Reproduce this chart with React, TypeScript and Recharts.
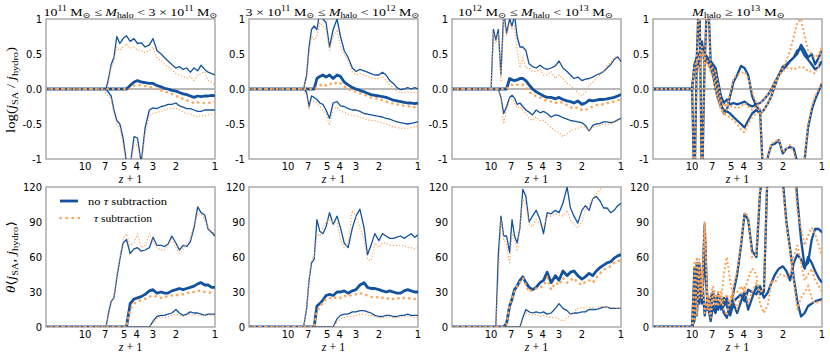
import React from 'react'
import { LineChart, Line, XAxis, YAxis, ReferenceArea } from 'recharts'

// shared redshift grid (z+1), left to right on the reversed log axis
const zp1 = [
  20, 10, 9.6, 9.2, 8.8, 8.4, 8.0, 7.6, 7.2,
  6.9, 6.6, 6.3, 6.0, 5.7, 5.4, 5.1, 4.8, 4.5, 4.2,
  3.95, 3.7, 3.45, 3.2, 3.0, 2.8, 2.6, 2.45, 2.3, 2.15,
  2.0, 1.88, 1.76, 1.65, 1.55, 1.45, 1.36, 1.28, 1.2, 1.13, 1.06, 1.0
]

const xTicks = [10, 7, 5, 4, 3, 2, 1]
const logTicks = [-1, -0.5, 0, 0.5, 1]
const thetaTicks = [0, 30, 60, 90, 120]

// ---- top row: log(j_SA / j_hydro) ----
// 1e11 - 3e11
const p1Hi = [0, 0, 0, 0, 0, 0, 0, 0, 0,
  0, 0.15, 0.35, 0.45, 0.75, 0.65, 0.72, 0.76, 0.68, 0.72,
  0.65, 0.66, 0.6, 0.63, 0.72, 0.55, 0.5, 0.45, 0.4, 0.35,
  0.3, 0.32, 0.28, 0.3, 0.24, 0.3, 0.26, 0.34, 0.28, 0.24, 0.22, 0.2]
const p1HiTau = [0, 0, 0, 0, 0, 0, 0, 0, 0,
  -0.05, 0.1, 0.3, 0.4, 0.6, 0.55, 0.6, 0.65, 0.58, 0.6,
  0.55, 0.55, 0.52, 0.55, 0.6, 0.45, 0.4, 0.35, 0.32, 0.28,
  0.22, 0.2, 0.18, 0.15, 0.18, 0.12, 0.2, 0.22, 0.25, 0.12, 0.1, 0.05]
const p1Med = [0, 0, 0, 0, 0, 0, 0, 0, 0,
  0, 0, 0, 0, 0, 0, 0, 0, 0.05, 0.1,
  0.12, 0.1, 0.09, 0.08, 0.08, 0.05, 0.03, 0.01, 0, -0.02,
  -0.03, -0.05, -0.07, -0.08, -0.1, -0.12, -0.1, -0.11, -0.1, -0.1, -0.09, -0.1]
const p1MedTau = [0, 0, 0, 0, 0, 0, 0, 0, 0,
  0, 0, 0, 0, 0, 0, 0, 0, 0, 0.05,
  0.06, 0.05, 0.04, 0.03, 0.02, 0, -0.02, -0.04, -0.05, -0.07,
  -0.1, -0.12, -0.14, -0.16, -0.18, -0.2, -0.19, -0.2, -0.2, -0.2, -0.19, -0.18]
const p1Lo = [0, 0, 0, 0, 0, 0, 0, 0, 0,
  0, -0.05, -0.1, -0.3, -0.45, -0.5, -0.7, -1.05, -1.1, -0.68,
  -0.7, -1.05, -0.55, -0.3, -0.27, -0.28, -0.25, -0.24, -0.22, -0.22,
  -0.2, -0.24, -0.26, -0.28, -0.28, -0.3, -0.32, -0.32, -0.3, -0.3, -0.3, -0.3]
const p1LoTau = [0, 0, 0, 0, 0, 0, 0, 0, 0,
  -0.08, -0.1, -0.15, -0.35, -0.5, -0.55, -0.8, -1.1, -1.1, -0.8,
  -0.8, -1.1, -0.65, -0.38, -0.35, -0.33, -0.32, -0.3, -0.28, -0.28,
  -0.27, -0.3, -0.33, -0.35, -0.36, -0.38, -0.4, -0.38, -0.38, -0.37, -0.36, -0.35]

// 3e11 - 1e12
const p2Hi = [0, 0, 0, 0, 0, 0, 0, 0, 0.2,
  0.6, 0.85, 0.9, 0.85, 1.1, 1.0, 0.95, 0.6, 0.85, 1.0,
  0.75, 0.55, 0.45, 0.3, 0.25, 0.28, 0.26, 0.24, 0.22, 0.2,
  0.2, 0.24, 0.2, 0.12, 0.08, 0.02, -0.01, 0, 0.02, 0, 0.02, 0]
const p2HiTau = [0, 0, 0, 0, 0, 0, 0, 0, 0.15,
  0.5, 0.75, 0.7, 0.75, 0.95, 0.9, 0.85, 0.55, 0.75, 0.85,
  0.6, 0.5, 0.4, 0.25, 0.2, 0.22, 0.2, 0.18, 0.16, 0.15,
  0.15, 0.18, 0.12, 0.06, 0.02, -0.03, -0.05, -0.05, -0.04, -0.05, -0.05, -0.05]
const p2Med = [0, 0, 0, 0, 0, 0, 0, 0, 0,
  0, 0, 0, 0.15, 0.18, 0.2, 0.17, 0.2, 0.15, 0.2,
  0.18, 0.1, 0.06, 0.02, 0, -0.02, -0.04, -0.06, -0.08, -0.09,
  -0.1, -0.11, -0.12, -0.14, -0.16, -0.17, -0.18, -0.19, -0.2, -0.2, -0.21, -0.2]
const p2MedTau = [0, 0, 0, 0, 0, 0, 0, 0, 0,
  0, 0, 0, 0.02, 0.05, 0.07, 0.05, 0.08, 0.06, 0.1,
  0.08, 0.04, 0, -0.02, -0.04, -0.06, -0.08, -0.1, -0.12, -0.13,
  -0.14, -0.16, -0.18, -0.2, -0.21, -0.22, -0.23, -0.24, -0.25, -0.25, -0.26, -0.26]
const p2Lo = [0, 0, 0, 0, 0, 0, 0, 0, -0.05,
  -0.25, -0.1, -0.12, -0.15, -0.2, -0.22, -0.3, -0.42, -0.2, -0.18,
  -0.24, -0.25, -0.28, -0.3, -0.3, -0.32, -0.35, -0.36, -0.37, -0.38,
  -0.39, -0.4, -0.42, -0.43, -0.45, -0.47, -0.48, -0.49, -0.5, -0.49, -0.48, -0.47]
const p2LoTau = [0, 0, 0, 0, 0, 0, 0, 0, -0.1,
  -0.3, -0.15, -0.18, -0.2, -0.25, -0.3, -0.35, -0.52, -0.28, -0.26,
  -0.32, -0.33, -0.36, -0.38, -0.38, -0.4, -0.42, -0.44, -0.45, -0.45,
  -0.47, -0.48, -0.5, -0.52, -0.54, -0.55, -0.56, -0.56, -0.56, -0.55, -0.54, -0.53]

// 1e12 - 1e13
const p3Hi = [0, 0, 0.85, 0.7, 0.85, 0.2, 1.1, 0.8, 1.0,
  0.9, 1.05, 0.75, 0.6, 0.6, 0.55, 0.36, 0.32, 0.3, 0.34,
  0.3, 0.28, 0.3, 0.33, 0.4, 0.3, 0.25, 0.2, 0.15, 0.17,
  0.12, 0.14, 0.15, 0.17, 0.2, 0.22, 0.25, 0.3, 0.35, 0.42, 0.46, 0.39]
const p3HiTau = [0, 0, 0.8, 0.65, 0.8, 0.1, 1.0, 0.75, 0.95,
  0.85, 0.9, 0.55, 0.3, 0.45, 0.3, 0.3, 0.25, 0.25, 0.28,
  0.2, 0.2, 0.25, 0.15, 0.2, 0.15, 0.08, 0.05, 0, -0.05,
  -0.1, -0.05, 0.05, 0.1, 0.15, 0.2, 0.25, 0.33, 0.38, 0.45, 0.47, 0.42]
const p3Med = [0, 0, 0, 0, 0, 0, 0, 0, 0.15,
  0.13, 0.12, 0.13, 0.15, 0.15, 0.12, 0.06, 0, -0.04, -0.07,
  -0.1, -0.12, -0.12, -0.14, -0.12, -0.15, -0.17, -0.18, -0.2, -0.17,
  -0.22, -0.2, -0.16, -0.17, -0.16, -0.15, -0.15, -0.14, -0.13, -0.12, -0.1, -0.08]
const p3MedTau = [0, 0, 0, 0, 0, 0, 0, 0, 0.05,
  0.06, 0.05, 0.06, 0.07, 0.06, 0.02, -0.04, -0.08, -0.1, -0.12,
  -0.15, -0.17, -0.18, -0.2, -0.18, -0.2, -0.23, -0.26, -0.28, -0.26,
  -0.3, -0.3, -0.27, -0.25, -0.23, -0.22, -0.22, -0.2, -0.19, -0.18, -0.16, -0.15]
const p3Lo = [0, 0, 0, 0, 0, -0.12, -0.35, -0.25, -0.12,
  -0.09, -0.13, -0.22, -0.2, -0.25, -0.3, -0.33, -0.37, -0.3, -0.34,
  -0.32, -0.35, -0.4, -0.37, -0.38, -0.41, -0.43, -0.45, -0.46, -0.47,
  -0.48, -0.52, -0.6, -0.52, -0.5, -0.49, -0.47, -0.47, -0.48, -0.47, -0.44, -0.42]
const p3LoTau = [0, 0, 0, 0, 0, -0.15, -0.5, -0.3, -0.17,
  -0.14, -0.2, -0.27, -0.25, -0.3, -0.35, -0.42, -0.45, -0.4, -0.45,
  -0.45, -0.5, -0.55, -0.6, -0.62, -0.68, -0.64, -0.6, -0.58, -0.56,
  -0.54, -0.55, -0.6, -0.55, -0.53, -0.52, -0.5, -0.5, -0.5, -0.48, -0.46, -0.44]

// >= 1e13 (few haloes, noisy)
const p4A = [0, 0, -1.5, 0.45, 0.5, 0.6, 0.5, 0.45, 0.35,
  0.3, 0.15, -0.05, -0.2, -0.35, -0.3, -0.1, 0.1, 0.2, 0.33,
  0.3, 0.2, -0.1, -0.25, -0.3, -1.5, -0.95, -0.8, -0.78, -0.73,
  -0.92, -0.85, -0.83, -0.85, -1.05, -1.4, -1.0, -0.55, -0.3, -0.15, -0.03, 0.08]
const p4ATau = [0, 0, -1.5, 0.4, 0.45, 0.55, 0.45, 0.4, 0.3,
  0.25, 0.1, -0.1, -0.25, -0.35, -0.3, -0.05, 0.15, 0.2, 0.22,
  0.25, 0.15, -0.05, -0.2, -0.3, -1.5, -0.95, -0.78, -0.75, -0.72,
  -0.9, -0.85, -0.8, -0.9, -1.1, -1.4, -0.95, -0.5, -0.25, -0.1, 0, 0.1]
const p4B = [0, 0, 0.3, 0.45, 1.5, -1.5, 0.45, 0.4, 0.3,
  0.2, 0, -0.15, -0.25, -0.3, -0.32, -0.35, -0.4, -0.45, -0.5,
  -0.55, -0.45, -0.35, -0.3, -0.35, -0.3, -0.2, -0.1, 0.05, 0.2,
  0.32, 0.35, 0.4, 0.45, 0.5, 0.63, 0.55, 0.45, 0.5, 0.35, 0.45, 0.55]
const p4BTau = [0, 0, 0.3, 0.4, 1.5, -1.5, 0.4, 0.35, 0.25,
  0.15, 0, -0.15, -0.3, -0.35, -0.38, -0.4, -0.45, -0.5, -0.58,
  -0.62, -0.5, -0.4, -0.35, -0.35, -0.3, -0.2, -0.1, 0.05, 0.18,
  0.3, 0.4, 0.55, 0.75, 0.95, 1.0, 0.75, 0.55, 0.5, 0.45, 0.5, 0.6]
const p4C = [0, 0, 0.35, 0.45, 0.3, 0.68, 0.35, 1.5, 0.4,
  0.35, 0.3, 0.1, -0.1, -0.2, -0.15, -0.22, -0.2, -0.22, -0.2,
  -0.18, -0.22, -0.25, -0.22, -0.2, -0.15, -0.08, 0, 0.1, 0.2,
  0.28, 0.33, 0.4, 0.45, 0.55, 0.58, 0.48, 0.42, 0.35, 0.28, 0.32, 0.4]
const p4CTau = [0, 0, 0.3, 0.4, 0.25, 0.6, 0.3, 1.5, 0.35,
  0.3, 0.25, 0.05, -0.15, -0.25, -0.2, -0.25, -0.25, -0.28, -0.25,
  -0.2, -0.25, -0.3, -0.25, -0.2, -0.15, -0.08, 0, 0.1, 0.18,
  0.25, 0.3, 0.3, 0.28, 0.3, 0.32, 0.3, 0.25, 0.25, 0.22, 0.35, 0.62]

// ---- bottom row: misalignment angle (deg) ----
const p5Hi = [0, 0, 0, 0, 0, 0, 0, 0, 0,
  0, 12, 22, 25, 42, 58, 72, 75, 63, 67,
  68, 65, 66, 68, 77, 70, 70, 69, 71, 78,
  72, 66, 70, 69, 73, 85, 103, 98, 96, 84, 81, 78]
const p5HiTau = [0, 0, 0, 0, 0, 0, 0, 0, 0,
  0, 10, 20, 27, 45, 60, 75, 80, 70, 72,
  80, 68, 70, 80, 73, 68, 66, 66, 70, 75,
  68, 63, 67, 70, 76, 88, 97, 97, 92, 85, 82, 80]
const p5Med = [0, 0, 0, 0, 0, 0, 0, 0, 0,
  0, 0, 0, 0, 0, 0, 0, 0, 20, 24,
  25, 26, 28, 31, 32, 29, 30, 29, 29, 31,
  32, 33, 32, 33, 34, 35, 37, 38, 36, 36, 34, 34]
const p5MedTau = [0, 0, 0, 0, 0, 0, 0, 0, 0,
  0, 0, 0, 0, 0, 0, 0, 0, 15, 20,
  22, 23, 24, 26, 27, 26, 25, 26, 26, 27,
  27, 28, 28, 29, 30, 30, 31, 31, 30, 30, 29, 28]
const p5Lo = [0, 0, 0, 0, 0, 0, 0, 0, 0,
  0, 0, 0, 0, 0, 0, 0, 0, 0, 0,
  0, 0, 0, 0, 5, 9, 10, 10, 11, 12,
  15, 12, 10, 11, 13, 12, 12, 11, 10, 11, 11, 11]
const p5LoTau = [0, 0, 0, 0, 0, 0, 0, 0, 0,
  0, 0, 0, 0, 0, 0, 0, 0, 0, 0,
  0, 0, 0, 0, 3, 7, 9, 8, 9, 10,
  11, 10, 9, 10, 11, 11, 10, 10, 10, 10, 10, 10]

const p6Hi = [0, 0, 0, 0, 0, 0, 0, 0, 16,
  40, 55, 58, 92, 82, 80, 86, 98, 88, 95,
  85, 72, 68, 85, 95, 101, 85, 62, 70, 80,
  74, 80, 78, 76, 76, 77, 78, 76, 78, 80, 77, 79]
const p6HiTau = [0, 0, 0, 0, 0, 0, 0, 0, 15,
  42, 58, 60, 80, 78, 85, 90, 92, 90, 90,
  75, 68, 72, 100, 95, 85, 75, 58, 57, 72,
  68, 72, 72, 70, 70, 70, 70, 70, 68, 68, 67, 68]
const p6Med = [0, 0, 0, 0, 0, 0, 0, 0, 0,
  0, 0, 0, 18, 20, 23, 27, 28, 27, 30,
  30, 31, 29, 31, 32, 36, 38, 34, 33, 33,
  32, 31, 30, 31, 30, 29, 29, 31, 32, 31, 30, 30]
const p6MedTau = [0, 0, 0, 0, 0, 0, 0, 0, 0,
  0, 0, 0, 14, 17, 21, 24, 25, 24, 26,
  25, 27, 26, 28, 28, 29, 28, 27, 26, 25,
  26, 25, 24, 25, 24, 25, 24, 25, 25, 24, 24, 24]
const p6Lo = [0, 0, 0, 0, 0, 0, 0, 0, 0,
  0, 0, 0, 0, 0, 0, 0, 0, 0, 7,
  10, 11, 11, 13, 13, 14, 14, 13, 12, 10,
  9, 9, 10, 10, 9, 9, 10, 10, 11, 10, 10, 10]
const p6LoTau = [0, 0, 0, 0, 0, 0, 0, 0, 0,
  0, 0, 0, 0, 0, 0, 0, 0, 0, 4,
  7, 8, 9, 9, 10, 11, 11, 10, 10, 9,
  8, 8, 8, 9, 8, 8, 9, 9, 9, 9, 8, 8]

const p7Hi = [0, 0, 0, 0, 62, 95, 78, 78, 64,
  92, 78, 72, 85, 118, 112, 90, 95, 100, 92,
  80, 98, 97, 100, 98, 106, 120, 102, 95, 89,
  100, 104, 100, 110, 112, 108, 102, 102, 98, 100, 104, 106]
const p7HiTau = [0, 0, 0, 0, 40, 92, 75, 70, 55,
  80, 75, 65, 85, 110, 105, 88, 86, 92, 88,
  86, 95, 95, 97, 96, 95, 100, 92, 88, 85,
  90, 100, 105, 110, 114, 118, 122, 120, 125, 125, 125, 125]
const p7Med = [0, 0, 0, 0, 0, 0, 0, 3, 18,
  24, 32, 35, 40, 43, 38, 34, 32, 34, 38,
  40, 47, 38, 44, 40, 48, 44, 47, 48, 44,
  41, 43, 46, 44, 48, 51, 53, 55, 56, 59, 61, 62]
const p7MedTau = [0, 0, 0, 0, 0, 0, 0, 2, 20,
  25, 30, 35, 38, 42, 36, 30, 32, 33, 34,
  35, 42, 32, 38, 36, 42, 38, 40, 42, 38,
  36, 39, 40, 38, 42, 46, 49, 51, 52, 55, 57, 56]
const p7Lo = [0, 0, 0, 0, 0, 0, 0, 0, 0,
  0, 0, 0, 0, 8, 15, 13, 12, 13, 12,
  13, 11, 12, 16, 20, 16, 14, 11, 12, 12,
  13, 13, 15, 15, 15, 16, 17, 17, 16, 16, 16, 16]
const p7LoTau = [0, 0, 0, 0, 0, 0, 0, 0, 0,
  0, 0, 0, 0, 6, 12, 11, 10, 11, 9,
  10, 9, 8, 8, 7, 5, 8, 10, 13, 16,
  17, 16, 17, 17, 16, 18, 17, 17, 17, 17, 16, 16]

const p8A = [0, 0, 50, 10, 45, 30, 88, 15, 25,
  30, 20, 28, 22, 18, 25, 15, 30, 45, 70,
  97, 92, 65, 60, 115, 140, 150, 150, 150, 150,
  150, 150, 150, 150, 110, 75, 52, 55, 75, 84, 84, 81]
const p8ATau = [0, 0, 55, 10, 50, 30, 90, 15, 28,
  35, 25, 30, 20, 22, 28, 18, 35, 48, 72,
  98, 95, 60, 62, 118, 140, 150, 150, 150, 150,
  150, 150, 150, 140, 100, 85, 70, 78, 85, 80, 70, 60]
const p8B = [0, 0, 5, 40, 55, 20, 60, 20, 5,
  18, 12, 22, 15, 25, 18, 10, 20, 12, 22,
  30, 15, 25, 35, 28, 30, 150, 150, 150, 150,
  125, 90, 67, 42, 22, 9, 12, 18, 20, 22, 23, 24]
const p8BTau = [0, 0, 5, 45, 58, 25, 90, 22, 8,
  25, 18, 30, 20, 45, 60, 40, 25, 15, 28,
  35, 20, 30, 38, 30, 32, 150, 150, 150, 150,
  120, 88, 65, 40, 15, 25, 30, 35, 25, 20, 22, 22]
const p8C = [0, 0, 30, 55, 20, 45, 10, 25, 12,
  28, 18, 15, 25, 12, 8, 20, 22, 25, 28,
  22, 32, 30, 28, 35, 25, 30, 38, 45, 50,
  52, 48, 40, 55, 62, 58, 50, 60, 55, 48, 42, 38]
const p8CTau = [0, 0, 35, 60, 25, 50, 12, 28, 15,
  30, 22, 18, 30, 15, 10, 25, 28, 30, 35,
  30, 42, 50, 45, 20, 12, 20, 40, 38, 45,
  45, 42, 45, 60, 70, 55, 40, 45, 50, 40, 35, 30]

const BLUE = '#12529f'
const ORANGE = '#fca45a'
const FRAME = '#ababab'

const rows = (ys: number[]) => zp1.map((x, i) => ({ x, y: ys[i] }))
const zeroRow = [{ x: 20, y: 0 }, { x: 1, y: 0 }]

type Spec = { b: number[], t: number[], w: 'thick' | 'thin' | 'mid' }

const colLeft = [46, 249, 452, 653]
const PW = 169
const PH = 140

const panels = [
  { col: 0, top: 19, kind: 'log', lines: [{ b: p1Hi, t: p1HiTau, w: 'thin' }, { b: p1Lo, t: p1LoTau, w: 'thin' }, { b: p1Med, t: p1MedTau, w: 'thick' }] },
  { col: 1, top: 19, kind: 'log', lines: [{ b: p2Hi, t: p2HiTau, w: 'thin' }, { b: p2Lo, t: p2LoTau, w: 'thin' }, { b: p2Med, t: p2MedTau, w: 'thick' }] },
  { col: 2, top: 19, kind: 'log', lines: [{ b: p3Hi, t: p3HiTau, w: 'thin' }, { b: p3Lo, t: p3LoTau, w: 'thin' }, { b: p3Med, t: p3MedTau, w: 'thick' }] },
  { col: 3, top: 19, kind: 'log', lines: [{ b: p4A, t: p4ATau, w: 'mid' }, { b: p4B, t: p4BTau, w: 'mid' }, { b: p4C, t: p4CTau, w: 'mid' }] },
  { col: 0, top: 187, kind: 'theta', lines: [{ b: p5Hi, t: p5HiTau, w: 'thin' }, { b: p5Lo, t: p5LoTau, w: 'thin' }, { b: p5Med, t: p5MedTau, w: 'thick' }] },
  { col: 1, top: 187, kind: 'theta', lines: [{ b: p6Hi, t: p6HiTau, w: 'thin' }, { b: p6Lo, t: p6LoTau, w: 'thin' }, { b: p6Med, t: p6MedTau, w: 'thick' }] },
  { col: 2, top: 187, kind: 'theta', lines: [{ b: p7Hi, t: p7HiTau, w: 'thin' }, { b: p7Lo, t: p7LoTau, w: 'thin' }, { b: p7Med, t: p7MedTau, w: 'thick' }] },
  { col: 3, top: 187, kind: 'theta', lines: [{ b: p8A, t: p8ATau, w: 'mid' }, { b: p8B, t: p8BTau, w: 'mid' }, { b: p8C, t: p8CTau, w: 'mid' }] },
]

const blueW = { thin: 1.3, mid: 2.3, thick: 2.8 }
const tauStyle = {
  thin: { w: 1.3, dash: '0.1 3' },
  mid: { w: 2.2, dash: '0.1 4.2' },
  thick: { w: 2.6, dash: '0.1 5.5' },
}

const tickFont = { fontSize: 10, fill: '#000', fontFamily: 'DejaVu Sans' }
const fmtLog = (v: number) => (v === 1 ? '1' : v === -1 ? '-1' : v.toFixed(1))

function Panel({ col, top, kind, lines }: { col: number, top: number, kind: string, lines: Spec[] }) {
  const isLog = kind === 'log'
  const yDomain = isLog ? [-1, 1] : [0, 120]
  return (
    <div style={{ position: 'absolute', left: colLeft[col] - 46, top: top - 19 }}>
      <LineChart width={46 + PW + 4} height={19 + PH + 20} margin={{ top: 19, right: 4, bottom: 0, left: 0 }}>
        <XAxis dataKey="x" type="number" scale="log" domain={[1, 20]} reversed allowDataOverflow
          ticks={xTicks} interval={0} tickLine={false} axisLine={false} tickSize={0} tickMargin={4}
          height={20} tick={tickFont} />
        <YAxis type="number" domain={yDomain} ticks={isLog ? logTicks : thetaTicks} allowDataOverflow
          interval={0} width={46} tickLine={false} axisLine={false} tickSize={0} tickMargin={4}
          tick={tickFont} tickFormatter={isLog ? fmtLog : undefined} />
        {isLog && (
          <Line data={zeroRow} dataKey="y" stroke="#b8b8b8" strokeWidth={2} dot={false}
            activeDot={false} isAnimationActive={false} />
        )}
        {lines.map((s, i) => (
          <Line key={'b' + i} data={rows(s.b)} dataKey="y" stroke={BLUE} strokeWidth={blueW[s.w]}
            strokeLinejoin="round" dot={false} activeDot={false} isAnimationActive={false} />
        ))}
        {lines.map((s, i) => (
          <Line key={'t' + i} data={rows(s.t)} dataKey="y" stroke={ORANGE} strokeWidth={tauStyle[s.w].w}
            strokeDasharray={tauStyle[s.w].dash} strokeLinecap="round" dot={false} activeDot={false}
            isAnimationActive={false} />
        ))}
        <ReferenceArea x1={1} x2={20} y1={yDomain[0]} y2={yDomain[1]} fill="none" fillOpacity={0}
          stroke={FRAME} strokeWidth={1.5} ifOverflow="visible" />
      </LineChart>
    </div>
  )
}

type Seg = [string, string?]

function MathText({ x, y, segs, size, anchor = 'middle', rotate = false, len }:
  { x: number, y: number, segs: Seg[], size: number, anchor?: string, rotate?: boolean, len?: number }) {
  let cur = 0
  const kids = segs.map(([t, k = 'n'], i) => {
    const small = k === 'sup' || k === 'sub'
    const target = k === 'sup' ? -size * 0.38 : k === 'sub' ? size * 0.22 : 0
    const dy = target - cur
    cur = target
    return (
      <tspan key={i} dy={dy} fontSize={small ? size * 0.7 : size}
        fontStyle={k === 'i' ? 'italic' : 'normal'}>{t}</tspan>
    )
  })
  return (
    <text x={x} y={y} textAnchor={anchor as any} fontFamily="'Liberation Serif', 'DejaVu Serif', serif"
      fontSize={size} fill="#000" style={{ whiteSpace: 'pre' }}
      transform={rotate ? `rotate(-90 ${x} ${y})` : undefined}
      textLength={len} lengthAdjust={len ? 'spacingAndGlyphs' : undefined}>
      {kids}
    </text>
  )
}

const titles: { x: number, len: number, segs: Seg[] }[] = [
  { x: 130.5, len: 174, segs: [['10'], ['11', 'sup'], [' M'], ['⊙', 'sub'], [' ≤ '], ['M', 'i'], ['halo', 'sub'], [' < 3 × 10'], ['11', 'sup'], [' M'], ['⊙', 'sub']] },
  { x: 332.5, len: 174, segs: [['3 × 10'], ['11', 'sup'], [' M'], ['⊙', 'sub'], [' ≤ '], ['M', 'i'], ['halo', 'sub'], [' < 10'], ['12', 'sup'], [' M'], ['⊙', 'sub']] },
  { x: 535.5, len: 155, segs: [['10'], ['12', 'sup'], [' M'], ['⊙', 'sub'], [' ≤ '], ['M', 'i'], ['halo', 'sub'], [' < 10'], ['13', 'sup'], [' M'], ['⊙', 'sub']] },
  { x: 738.5, len: 93, segs: [['M', 'i'], ['halo', 'sub'], [' ≥ 10'], ['13', 'sup'], [' M'], ['⊙', 'sub']] },
]

export default function App() {
  return (
    <div style={{ position: 'absolute', left: 0, top: 0, width: 830, height: 359, background: '#fff', overflow: 'hidden' }}>
      {panels.map((p, i) => <Panel key={i} col={p.col} top={p.top} kind={p.kind} lines={p.lines as Spec[]} />)}
      <svg width={830} height={359} style={{ position: 'absolute', left: 0, top: 0, pointerEvents: 'none' }}>
        {titles.map((t, i) => <MathText key={i} x={t.x} y={15.5} size={11} segs={t.segs} len={t.len} />)}
        <MathText x={15} y={90} size={12} rotate len={86}
          segs={[['log('], ['j', 'i'], ['SA', 'sub'], [' / '], ['j', 'i'], ['hydro', 'sub'], [')']]} />
        <MathText x={15} y={257} size={12} rotate len={72}
          segs={[['θ', 'i'], ['⟨'], ['j', 'i'], ['SA', 'sub'], [', '], ['j', 'i'], ['hydro', 'sub'], ['⟩']]} />
        {colLeft.map((l, i) => (
          <React.Fragment key={i}>
            <MathText x={l + PW / 2} y={182.5} size={12} segs={[['z', 'i'], [' + 1']]} />
            <MathText x={l + PW / 2} y={350.5} size={12} segs={[['z', 'i'], [' + 1']]} />
          </React.Fragment>
        ))}
        <line x1={60} x2={78} y1={201} y2={201} stroke={BLUE} strokeWidth={2.8} />
        <line x1={60.5} x2={79} y1={218} y2={218} stroke={ORANGE} strokeWidth={2.6}
          strokeDasharray="0.1 6" strokeLinecap="round" />
        <MathText x={88} y={204.5} size={11} anchor="start" len={79}
          segs={[['no '], ['τ', 'i'], [' subtraction']]} />
        <MathText x={94} y={221.5} size={11} anchor="start" len={58}
          segs={[['τ', 'i'], [' subtraction']]} />
      </svg>
    </div>
  )
}
